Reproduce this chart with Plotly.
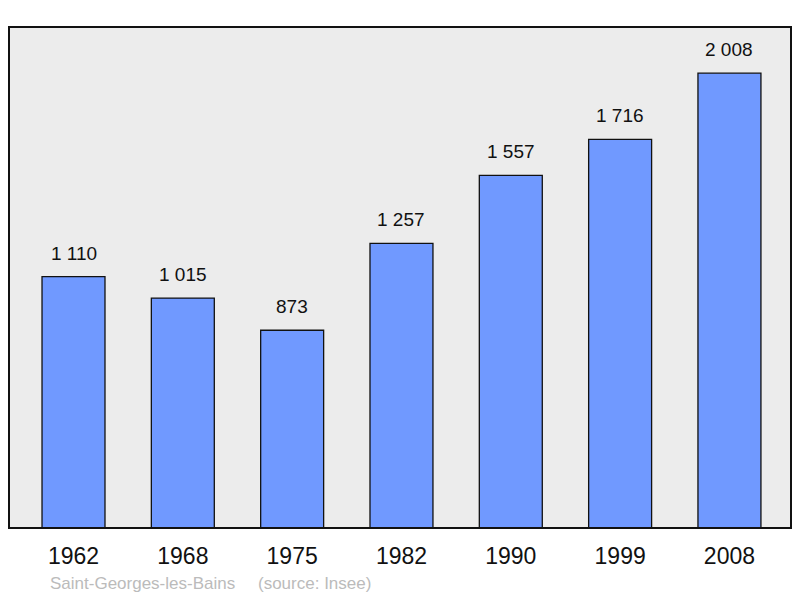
import plotly.graph_objects as go

years = ["1962", "1968", "1975", "1982", "1990", "1999", "2008"]
population = [1110, 1015, 873, 1257, 1557, 1716, 2008]
labels = ["1 110", "1 015", "873", "1 257", "1 557", "1 716", "2 008"]
source_left = "Saint-Georges-les-Bains"
source_right = "(source: Insee)"

FONT = "Liberation Sans, Arial"

fig = go.Figure()
fig.add_trace(go.Bar(
    x=years, y=population, width=0.576,
    marker=dict(color="#7099ff", line=dict(color="#111111", width=1.3)),
    hoverinfo="skip",
))

for i, (v, t) in enumerate(zip(population, labels)):
    fig.add_annotation(x=i, y=v, text=t, showarrow=False, yanchor="bottom",
                       yshift=11, font=dict(family=FONT, size=19, color="#111111"))

# page body has an 8px margin: figure starts at (8, 8) in the window
PW, PH = 782, 501  # plot area size
fig.add_annotation(xref="paper", yref="paper", x=(48 - 9) / PW, y=-(583 - 528) / PH,
                   xanchor="left", yanchor="middle", text=source_left, showarrow=False,
                   font=dict(family=FONT, size=17, color="#bbbbbb"))
fig.add_annotation(xref="paper", yref="paper", x=(256 - 9) / PW, y=-(583 - 528) / PH,
                   xanchor="left", yanchor="middle", text=source_right, showarrow=False,
                   font=dict(family=FONT, size=17, color="#bbbbbb"))

fig.add_shape(type="rect", xref="paper", yref="paper", x0=0, y0=0, x1=1, y1=1,
              line=dict(color="#111111", width=2), layer="above")

fig.update_layout(
    width=792, height=590,
    margin=dict(l=1, r=9, t=19, b=70, pad=0),
    paper_bgcolor="white", plot_bgcolor="#ececec",
    showlegend=False,
    xaxis=dict(type="category", range=[-0.59, 6.563], showgrid=False, zeroline=False,
               ticks="outside", ticklen=7, tickcolor="rgba(0,0,0,0)",
               tickfont=dict(family=FONT, size=23, color="#111111"),
               fixedrange=True),
    yaxis=dict(range=[0, 2212], showgrid=False, zeroline=False, showticklabels=False,
               fixedrange=True),
)

fig.write_html("out.html")
